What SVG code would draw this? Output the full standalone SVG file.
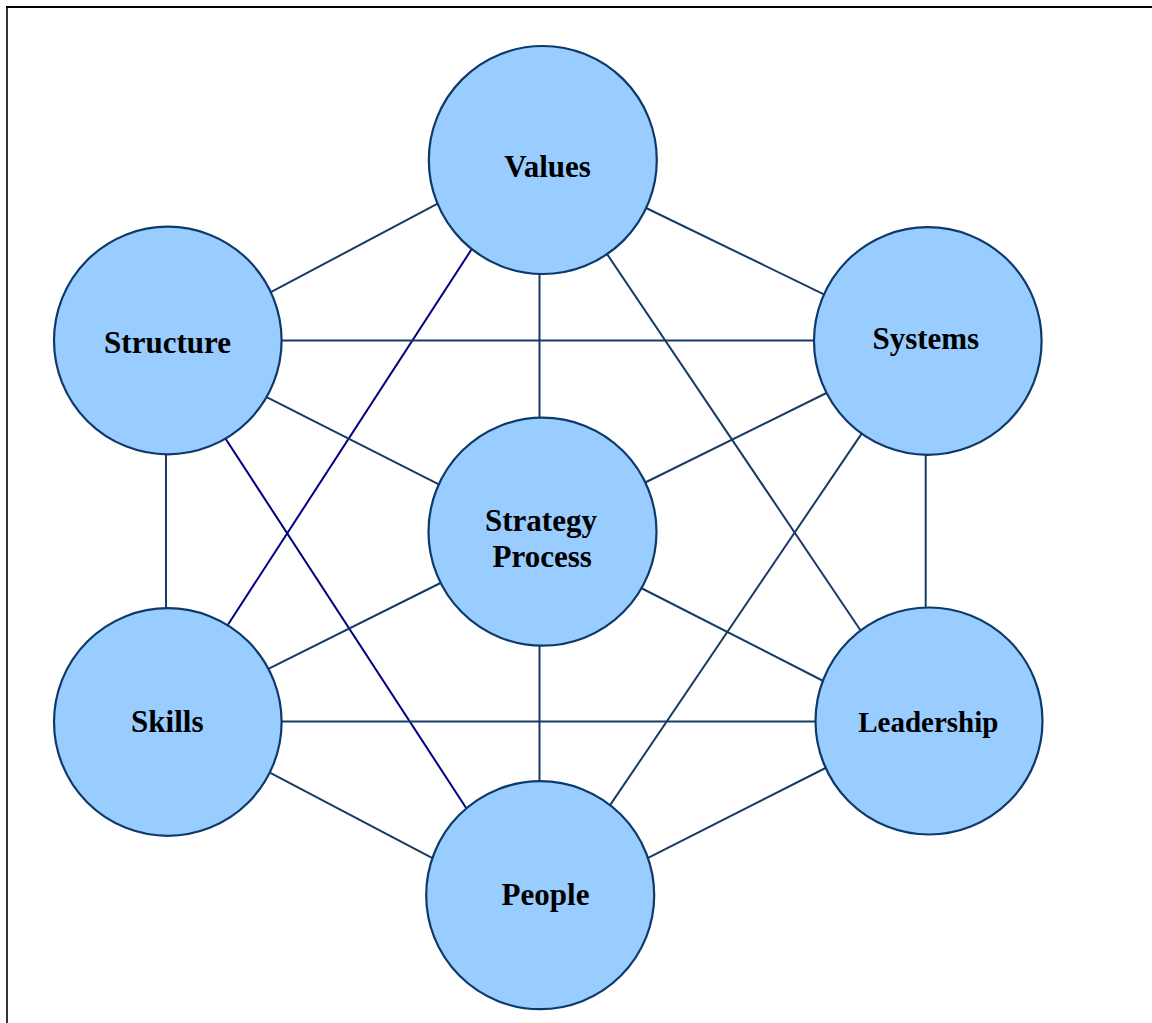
<svg xmlns="http://www.w3.org/2000/svg" width="1152" height="1023" viewBox="0 0 1152 1023">
  <style>
    .node { fill: #99CCFF; stroke: #0E3A6A; stroke-width: 2.2; }
    .lbl { font-family: "Liberation Serif", "Times New Roman", serif; font-weight: bold; font-size: 31px; fill: #000; text-anchor: middle; }
    .c { stroke: #173A66; stroke-width: 2; fill: none; }
    .n { stroke: #000080; stroke-width: 2; fill: none; }
    .frame { stroke: #000; fill: none; }
  </style>
  <rect x="0" y="0" width="1152" height="1023" fill="#FFFFFF"/>
  <g id="frame">
    <line class="frame" x1="6" y1="7" x2="1152" y2="7" stroke-width="2.2"/>
    <line class="frame" x1="7" y1="6" x2="7" y2="1023" stroke-width="1.6"/>
  </g>
  <g id="connectors">
    <line class="c" x1="440" y1="202.3" x2="268" y2="293.7"/>
    <line class="c" x1="642" y1="206" x2="828" y2="296.3"/>
    <line class="c" x1="539.5" y1="268" x2="539.5" y2="422"/>
    <line class="n" x1="473.4" y1="246.5" x2="225" y2="629.2"/>
    <line class="c" x1="604.9" y1="250.9" x2="863.5" y2="634.8"/>
    <line class="c" x1="277" y1="340.5" x2="819" y2="340.5"/>
    <line class="c" x1="263.2" y1="395.4" x2="442.8" y2="486.3"/>
    <line class="c" x1="166" y1="450" x2="166" y2="612"/>
    <line class="n" x1="223" y1="434.8" x2="468.4" y2="811.5"/>
    <line class="c" x1="830.5" y1="391" x2="642.2" y2="484"/>
    <line class="c" x1="925.7" y1="450" x2="925.7" y2="612"/>
    <line class="c" x1="863.5" y1="430.9" x2="607.2" y2="809.4"/>
    <line class="c" x1="444.5" y1="581" x2="264.8" y2="670.6"/>
    <line class="c" x1="637.2" y1="586" x2="827.2" y2="683"/>
    <line class="c" x1="539.5" y1="641" x2="539.5" y2="787"/>
    <line class="c" x1="277" y1="721.5" x2="821" y2="721.5"/>
    <line class="c" x1="265.6" y1="770.4" x2="436.7" y2="860.3"/>
    <line class="c" x1="829.5" y1="766" x2="643.2" y2="860.3"/>
  </g>
  <g id="node-values">
    <circle class="node" cx="542.8" cy="160" r="114"/>
    <text class="lbl" x="547.5" y="176.5">Values</text>
  </g>
  <g id="node-structure">
    <circle class="node" cx="167.8" cy="340.5" r="113.8"/>
    <text class="lbl" x="167.5" y="353.3">Structure</text>
  </g>
  <g id="node-systems">
    <circle class="node" cx="927.8" cy="341" r="113.8"/>
    <text class="lbl" x="925.8" y="349">Systems</text>
  </g>
  <g id="node-strategy">
    <circle class="node" cx="542.5" cy="531.7" r="114"/>
    <text class="lbl" x="541" y="530.7">Strategy</text>
    <text class="lbl" x="542.2" y="567.3">Process</text>
  </g>
  <g id="node-skills">
    <circle class="node" cx="167.8" cy="722" r="113.8"/>
    <text class="lbl" x="167.3" y="732.3">Skills</text>
  </g>
  <g id="node-leadership">
    <circle class="node" cx="929" cy="721" r="113.5"/>
    <text class="lbl" x="928.3" y="731.7" style="font-size:29px">Leadership</text>
  </g>
  <g id="node-people">
    <circle class="node" cx="540.2" cy="895.2" r="114"/>
    <text class="lbl" x="545.5" y="904.7">People</text>
  </g>
</svg>
